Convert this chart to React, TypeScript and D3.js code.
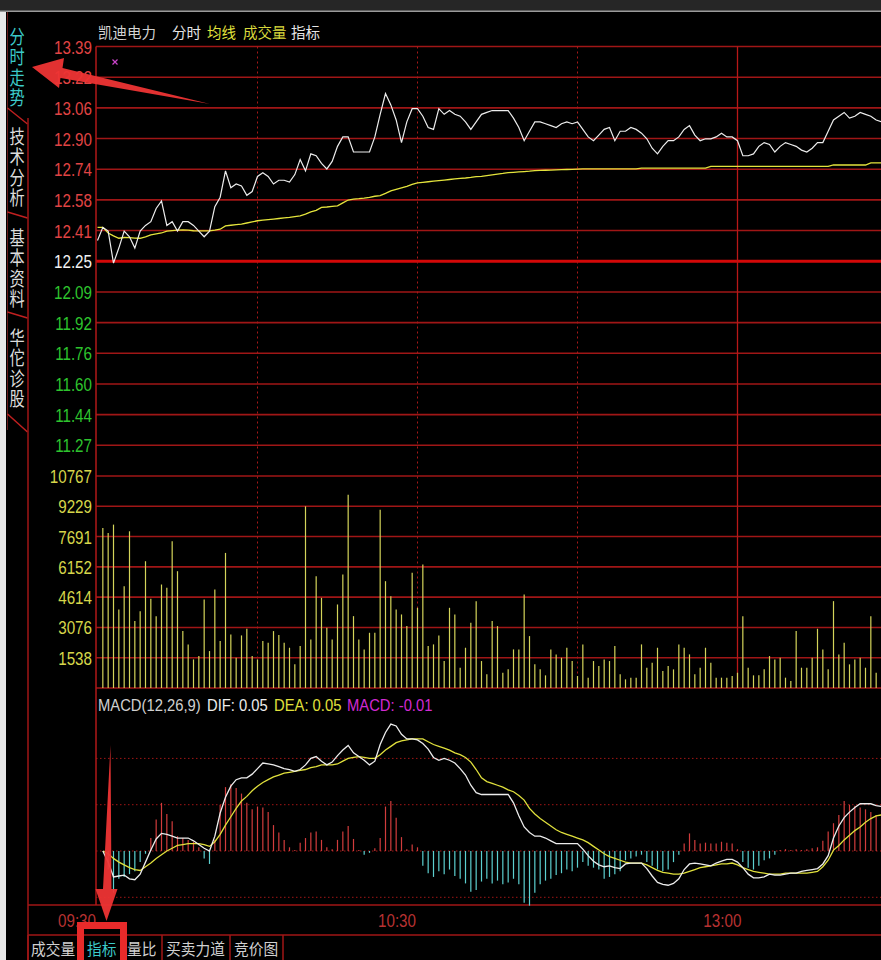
import React from "react";
import * as d3 from "d3";

const W = 881;
const H = 960;

// ---------- data ----------
const preClose = 12.25;
const priceStep = 0.162857;
const priceTickLabels = ["13.39", "13.22", "13.06", "12.90", "12.74", "12.58", "12.41", "12.25", "12.09", "11.92", "11.76", "11.60", "11.44", "11.27"];
const volumeTicks = [10767, 9229, 7691, 6152, 4614, 3076, 1538];
const timeLabels = ["09:30", "10:30", "13:00"];
const timeLabelMinutes = [0, 60, 121];
const dottedMinutes = [30, 60, 90];
const solidMinutes = [120];
const macdGrid = [0.1, 0.05, 0, -0.05];

const price = [
  12.36, 12.43, 12.41, 12.24, 12.32, 12.41, 12.38, 12.32, 12.41, 12.44,
  12.46, 12.53, 12.57, 12.44, 12.46, 12.41, 12.46, 12.46, 12.44, 12.41,
  12.38, 12.41, 12.54, 12.59, 12.73, 12.64, 12.66, 12.65, 12.60, 12.62,
  12.70, 12.72, 12.70, 12.66, 12.68, 12.68, 12.67, 12.71, 12.79, 12.73,
  12.82, 12.81, 12.77, 12.74, 12.78, 12.86, 12.91, 12.91, 12.83, 12.83,
  12.83, 12.83, 12.91, 13.03, 13.14, 13.08, 13.00, 12.88, 12.99, 13.06,
  13.06, 13.02, 12.96, 12.95, 13.06, 13.03, 13.05, 13.03, 13.02, 12.99,
  12.95, 12.99, 13.03, 13.04, 13.05, 13.05, 13.05, 13.05, 13.01, 12.96,
  12.89, 12.94, 12.99, 12.99, 12.98, 12.97, 12.96, 12.98, 12.99, 12.98,
  12.99, 12.95, 12.91, 12.89, 12.92, 12.95, 12.96, 12.89, 12.94, 12.94,
  12.96, 12.95, 12.93, 12.90, 12.85, 12.82, 12.86, 12.89, 12.89, 12.91,
  12.95, 12.97, 12.92, 12.89, 12.90, 12.90, 12.91, 12.93, 12.91, 12.91,
  12.89, 12.81, 12.81, 12.82, 12.86, 12.88, 12.87, 12.83, 12.86, 12.88,
  12.87, 12.86, 12.84, 12.83, 12.85, 12.88, 12.88, 12.94, 13.00, 13.02,
  13.04, 13.01, 13.02, 13.04, 13.03, 13.02, 13.00, 12.99,
];

const avgPrice = [
  12.430, 12.430, 12.400, 12.385, 12.372, 12.376, 12.375, 12.373, 12.372, 12.380,
  12.390, 12.395, 12.400, 12.410, 12.413, 12.415, 12.417, 12.415, 12.412, 12.411,
  12.411, 12.411, 12.415, 12.420, 12.438, 12.441, 12.444, 12.447, 12.453, 12.459,
  12.465, 12.468, 12.471, 12.474, 12.477, 12.480, 12.483, 12.487, 12.491, 12.500,
  12.512, 12.520, 12.536, 12.538, 12.541, 12.544, 12.560, 12.575, 12.580, 12.582,
  12.585, 12.589, 12.595, 12.598, 12.610, 12.624, 12.632, 12.640, 12.648, 12.658,
  12.666, 12.669, 12.672, 12.675, 12.678, 12.681, 12.684, 12.687, 12.690, 12.692,
  12.695, 12.699, 12.701, 12.705, 12.709, 12.713, 12.716, 12.720, 12.722, 12.724,
  12.726, 12.728, 12.731, 12.732, 12.733, 12.734, 12.735, 12.736, 12.737, 12.738,
  12.739, 12.740, 12.740, 12.740, 12.740, 12.740, 12.740, 12.740, 12.740, 12.740,
  12.740, 12.740, 12.744, 12.744, 12.744, 12.744, 12.744, 12.744, 12.744, 12.744,
  12.744, 12.744, 12.744, 12.744, 12.744, 12.754, 12.754, 12.754, 12.754, 12.754,
  12.754, 12.754, 12.754, 12.754, 12.754, 12.754, 12.754, 12.754, 12.754, 12.754,
  12.754, 12.754, 12.754, 12.754, 12.754, 12.754, 12.754, 12.754, 12.761, 12.761,
  12.761, 12.761, 12.761, 12.761, 12.761, 12.772, 12.772, 12.772,
];

const volume = [
  0, 8129, 7875, 8298, 3988, 5171, 7960, 3397, 3904, 6439,
  4529, 3650, 5256, 5087, 7453, 5932, 2890, 2214, 1453, 1622,
  4495, 1876, 5002, 2383, 6861, 2721, 1538, 2670, 3008, 1622,
  1453, 2383, 2298, 2890, 2687, 2298, 2045, 1200, 2129, 9227,
  2467, 5678, 4580, 3059, 2467, 4242, 5763, 9819, 3650, 2467,
  1960, 2805, 2805, 9058, 5425, 4664, 3988, 3735, 3143, 5847,
  4073, 6270, 2129, 2214, 2670, 1369, 4073, 3735, 1031, 2045,
  3312, 4411, 1369, 693, 3397, 3143, 777, 946, 1960, 1960,
  4749, 2636, 1200, 946, 642, 1960, 1707, 1538, 2045, 1369,
  608, 2214, 524, 1369, 1115, 1453, 1369, 2129, 693, 439,
  524, 524, 2214, 1031, 1284, 2045, 862, 1115, 946, 2214,
  2045, 1707, 693, 1031, 2045, 1284, 524, 524, 524, 608,
  777, 3650, 1031, 642, 642, 946, 1622, 1453, 1538, 524,
  355, 2890, 1031, 1031, 1538, 3008, 1960, 946, 4411, 1707,
  2298, 1200, 1453, 1538, 1031, 3650, 777,
];

// MACD series start at minute 1
const macdStart = 1;
const dif = [
  0.000, -0.012, -0.028, -0.027, -0.026, -0.030, -0.031, -0.025, -0.012, 0.001,
  0.013, 0.019, 0.018, 0.016, 0.014, 0.014, 0.014, 0.011, 0.007, 0.003,
  0.000, 0.016, 0.041, 0.058, 0.070, 0.077, 0.079, 0.079, 0.083, 0.089,
  0.095, 0.094, 0.093, 0.091, 0.089, 0.088, 0.086, 0.088, 0.093, 0.100,
  0.102, 0.097, 0.093, 0.096, 0.103, 0.109, 0.114, 0.106, 0.102, 0.098,
  0.093, 0.097, 0.115, 0.128, 0.137, 0.135, 0.126, 0.121, 0.121, 0.120,
  0.116, 0.110, 0.101, 0.098, 0.100, 0.098, 0.095, 0.089, 0.082, 0.071,
  0.063, 0.061, 0.061, 0.061, 0.061, 0.061, 0.061, 0.052, 0.038, 0.026,
  0.020, 0.016, 0.016, 0.014, 0.011, 0.008, 0.008, 0.008, 0.008, 0.008,
  0.002, -0.005, -0.011, -0.015, -0.017, -0.016, -0.018, -0.019, -0.014, -0.013,
  -0.013, -0.013, -0.019, -0.027, -0.034, -0.036, -0.037, -0.035, -0.030, -0.020,
  -0.014, -0.013, -0.014, -0.015, -0.016, -0.013, -0.011, -0.009, -0.009, -0.012,
  -0.018, -0.025, -0.029, -0.029, -0.028, -0.025, -0.026, -0.026, -0.025, -0.024,
  -0.024, -0.022, -0.021, -0.020, -0.019, -0.014, -0.005, 0.014, 0.027, 0.036,
  0.042, 0.047, 0.051, 0.051, 0.051, 0.049, 0.048,
];
const dea = [
  0.000, -0.003, -0.008, -0.012, -0.015, -0.018, -0.020, -0.021, -0.017, -0.013,
  -0.008, -0.004, 0.000, 0.003, 0.006, 0.007, 0.008, 0.008, 0.008, 0.007,
  0.005, 0.010, 0.018, 0.028, 0.037, 0.046, 0.054, 0.059, 0.065, 0.070,
  0.074, 0.077, 0.080, 0.082, 0.084, 0.085, 0.086, 0.087, 0.088, 0.090,
  0.091, 0.093, 0.093, 0.093, 0.094, 0.097, 0.100, 0.101, 0.102, 0.101,
  0.100, 0.100, 0.104, 0.109, 0.113, 0.117, 0.119, 0.120, 0.121, 0.121,
  0.121, 0.118, 0.115, 0.113, 0.111, 0.109, 0.106, 0.104, 0.101, 0.096,
  0.088, 0.079, 0.075, 0.073, 0.071, 0.069, 0.066, 0.064, 0.060, 0.055,
  0.046, 0.040, 0.035, 0.031, 0.027, 0.023, 0.020, 0.018, 0.016, 0.014,
  0.012, 0.009, 0.005, 0.001, -0.003, -0.006, -0.008, -0.010, -0.012, -0.013,
  -0.013, -0.013, -0.015, -0.018, -0.021, -0.023, -0.024, -0.025, -0.025, -0.024,
  -0.022, -0.020, -0.018, -0.017, -0.016, -0.015, -0.014, -0.014, -0.013, -0.015,
  -0.018, -0.020, -0.022, -0.023, -0.024, -0.025, -0.025, -0.025, -0.024, -0.024,
  -0.024, -0.024, -0.024, -0.023, -0.022, -0.017, -0.010, 0.001, 0.006, 0.012,
  0.017, 0.022, 0.026, 0.031, 0.035, 0.038, 0.039,
];
const macdHist = [
  0, 0, -0.020, -0.045, -0.030, -0.028, -0.025, -0.022, -0.012, -0.003,
  0.014, 0.034, 0.052, 0.040, 0.032, 0.016, 0.014, 0.012, 0.010, 0.004,
  -0.008, -0.014, 0.012, 0.050, 0.069, 0.072, 0.068, 0.062, 0.052, 0.045,
  0.048, 0.047, 0.042, 0.028, 0.020, 0.012, 0.004, 0.001, 0.009, 0.014,
  0.020, 0.021, 0.012, 0.004, 0.002, 0.012, 0.021, 0.027, 0.013, 0.001,
  -0.004, -0.002, 0.003, 0.014, 0.048, 0.054, 0.036, 0.015, 0.002, 0.007,
  0.004, -0.016, -0.024, -0.028, -0.022, -0.025, -0.020, -0.027, -0.030, -0.035,
  -0.044, -0.042, -0.033, -0.030, -0.035, -0.032, -0.036, -0.034, -0.030, -0.036,
  -0.056, -0.059, -0.045, -0.036, -0.032, -0.030, -0.026, -0.024, -0.020, -0.022,
  -0.018, -0.012, -0.016, -0.018, -0.020, -0.030, -0.028, -0.025, -0.022, -0.010,
  -0.008, -0.006, -0.004, -0.012, -0.016, -0.020, -0.022, -0.020, -0.012, -0.004,
  0.008, 0.019, 0.012, 0.008, 0.009, 0.008, 0.008, 0.010, 0.009, 0.008,
  0.002, -0.012, -0.018, -0.020, -0.016, -0.010, -0.008, -0.004, 0.001, 0.002,
  0.001, 0.002, 0.001, 0.002, 0.003, 0.004, 0.011, 0.021, 0.030, 0.039,
  0.054, 0.050, 0.049, 0.047, 0.045, 0.042, 0.039, 0.034,
];

const titleParts = [
  { t: "凯迪电力", c: "#d4d4d4", x: 98 },
  { t: "分时", c: "#e6e6e6", x: 172 },
  { t: "均线", c: "#e2e23c", x: 207 },
  { t: "成交量", c: "#d8d83c", x: 243 },
  { t: "指标", c: "#e6e6e6", x: 291 },
];
const macdLabelParts = [
  { t: "MACD(12,26,9)", c: "#d0d0d0", x: 98 },
  { t: "DIF: 0.05", c: "#ececec", x: 207 },
  { t: "DEA: 0.05", c: "#e0e03c", x: 274 },
  { t: "MACD: -0.01", c: "#d22ad2", x: 347 },
];
const sideTabs = [
  { t: "分时走势", c: "#3ccaca", y0: 27 },
  { t: "技术分析", c: "#dcdcdc", y0: 127 },
  { t: "基本资料", c: "#dcdcdc", y0: 228 },
  { t: "华佗诊股", c: "#dcdcdc", y0: 328 },
];
const bottomTabs = [
  { t: "成交量", c: "#d0d0d0", x: 31 },
  { t: "指标", c: "#3ccaca", x: 87 },
  { t: "量比", c: "#d0d0d0", x: 127 },
  { t: "买卖力道", c: "#d0d0d0", x: 166 },
  { t: "竞价图", c: "#d0d0d0", x: 234 },
];
const bottomSeparators = [28, 162, 230, 283];

// ---------- layout ----------
const x0 = 97.5;
const pxPerMin = 16 / 3;
const priceTop = 46.5;
const priceBottom = 476;
const volBottom = 688;
const macdBottom = 905;
const timeBottom = 935;

const GRID = "#a01616";
const NUM_FONT = "'Liberation Sans', Arial, sans-serif";
const CJK_FONT = "'Noto Sans CJK SC', sans-serif";

export default function App() {
  const x = d3.scaleLinear().domain([0, 240]).range([x0, x0 + 240 * pxPerMin]);
  const yP = d3
    .scaleLinear()
    .domain([preClose - 7 * priceStep, preClose + 7 * priceStep])
    .range([priceBottom, priceTop]);
  const yV = d3.scaleLinear().domain([0, volumeTicks[0]]).range([volBottom, priceBottom]);
  const yM = d3.scaleLinear().domain([-0.05, 0.1]).range([897.3, 758.4]);

  const priceLine = d3
    .line<number>()
    .x((_, i) => x(i))
    .y((d) => yP(d));
  const macdLine = d3
    .line<number>()
    .x((_, i) => x(i + macdStart))
    .y((d) => yM(d));

  const priceGridY = priceTickLabels.map((_, k) => yP(preClose + (7 - k) * priceStep));
  priceGridY.push(yP(preClose - 7 * priceStep));

  const numLabel = (
    txt: string,
    px: number,
    py: number,
    color: string,
    size = 19,
    sx = 0.8,
    anchor: "end" | "start" = "end",
    key?: string
  ) => (
    <text
      key={key}
      transform={`translate(${px},${py}) scale(${sx},1)`}
      textAnchor={anchor}
      fill={color}
      fontFamily={NUM_FONT}
      fontSize={size}
    >
      {txt}
    </text>
  );

  // arrow geometry (annotation)
  const arrow1 = "M32,67 L64,58 L62.5,68 L210,104 L60.5,78 L59,88 Z";
  const arrow2 = "M110.5,745 L111.5,889 L117.5,889 L106.5,921 L95.5,889 L103,889 Z";

  return (
    <svg
      width={W}
      height={H}
      viewBox={`0 0 ${W} ${H}`}
      style={{ position: "absolute", left: 0, top: 0, background: "#000" }}
    >
      <rect x={0} y={0} width={W} height={H} fill="#000" />
      {/* header strip */}
      <rect x={0} y={0} width={W} height={11} fill="#262626" />
      <rect x={0} y={10.5} width={W} height={1.5} fill="#9a9a9a" />
      {/* left white border */}
      <rect x={0} y={12} width={6} height={H - 12} fill="#e8e8e8" />

      {/* side tabs */}
      <line x1={7.5} y1={12} x2={7.5} y2={430} stroke="#6a1a1a" strokeWidth={1} />
      <path d="M7.5,108 L27.5,124" stroke="#c02020" strokeWidth={1.5} fill="none" />
      <path d="M7.5,212 L27.5,218" stroke="#c02020" strokeWidth={1.5} fill="none" />
      <path d="M7.5,312 L27.5,318" stroke="#c02020" strokeWidth={1.5} fill="none" />
      <path d="M7.5,414 L27.5,432" stroke="#c02020" strokeWidth={1.5} fill="none" />
      <line x1={28} y1={118} x2={28} y2={H} stroke={GRID} strokeWidth={1.5} />
      {sideTabs.map((tab) => (
        <text
          key={tab.t}
          transform={`translate(17,${tab.y0}) scale(0.8,1)`}
          fill={tab.c}
          fontFamily={CJK_FONT}
          fontSize={19}
          letterSpacing={1.5}
          style={{ writingMode: "vertical-rl" as any }}
        >
          {tab.t}
        </text>
      ))}

      {/* title */}
      {titleParts.map((p) => (
        <text key={p.t} x={p.x} y={38} fill={p.c} fontFamily={CJK_FONT} fontSize={14.5}>
          {p.t}
        </text>
      ))}

      {/* price grid */}
      {priceGridY.map((gy, k) => (
        <line
          key={"pg" + k}
          x1={96}
          x2={W}
          y1={gy}
          y2={gy}
          stroke={k === 7 ? "#d40808" : GRID}
          strokeWidth={k === 7 ? 3 : 1.6}
        />
      ))}
      {/* volume grid */}
      {volumeTicks.slice(1).map((v) => (
        <line key={"vg" + v} x1={96} x2={W} y1={yV(v)} y2={yV(v)} stroke={GRID} strokeWidth={1.6} />
      ))}
      <line x1={96} x2={W} y1={volBottom} y2={volBottom} stroke={GRID} strokeWidth={1.6} />

      {/* vertical time grid */}
      {dottedMinutes.map((m) => (
        <line
          key={"vd" + m}
          x1={x(m)}
          x2={x(m)}
          y1={priceTop}
          y2={volBottom}
          stroke="#a81818"
          strokeWidth={1}
          strokeDasharray="2,3"
        />
      ))}
      {solidMinutes.map((m) => (
        <line key={"vs" + m} x1={x(m)} x2={x(m)} y1={priceTop} y2={volBottom} stroke="#b81818" strokeWidth={1.3} />
      ))}

      {/* MACD grid */}
      {macdGrid.map((v) => (
        <line
          key={"mg" + v}
          x1={96}
          x2={W}
          y1={yM(v)}
          y2={yM(v)}
          stroke="#a01616"
          strokeWidth={1}
          strokeDasharray="1.5,2.5"
        />
      ))}
      <line x1={28} x2={W} y1={macdBottom} y2={macdBottom} stroke={GRID} strokeWidth={1.6} />
      <line x1={28} x2={W} y1={timeBottom} y2={timeBottom} stroke={GRID} strokeWidth={1.6} />

      {/* left axis line */}
      <line x1={96} x2={96} y1={priceTop} y2={macdBottom} stroke="#b01818" strokeWidth={1.5} />

      {/* price labels */}
      {priceTickLabels.map((lab, k) =>
        numLabel(
          lab,
          92,
          priceGridY[k] + 7,
          k < 7 ? "#e04444" : k === 7 ? "#f2f2f2" : "#2ec42e",
          19,
          0.8,
          "end",
          "pl" + k
        )
      )}
      {/* volume labels */}
      {volumeTicks.map((v) => numLabel(String(v), 92, yV(v) + 7, "#d6d64a", 19, 0.8, "end", "vl" + v))}

      {/* volume bars */}
      {volume.map((v, i) =>
        v > 0 ? (
          <line key={"vb" + i} x1={x(i)} x2={x(i)} y1={yV(0)} y2={yV(v)} stroke="#d4d45a" strokeWidth={1.2} />
        ) : null
      )}

      {/* price lines */}
      <path d={priceLine(avgPrice) || ""} fill="none" stroke="#e4e43c" strokeWidth={1.3} />
      <path d={priceLine(price) || ""} fill="none" stroke="#ececec" strokeWidth={1.2} />

      {/* magenta marker */}
      <path d="M112.5,59.5 L117.5,64.5 M117.5,59.5 L112.5,64.5" stroke="#cc44cc" strokeWidth={1.2} />

      {/* MACD histogram */}
      {macdHist.map((v, i) =>
        v !== 0 ? (
          <line
            key={"mh" + i}
            x1={x(i)}
            x2={x(i)}
            y1={yM(0)}
            y2={yM(v)}
            stroke={v > 0 ? "#d23c3c" : "#5ccfcf"}
            strokeWidth={1.2}
          />
        ) : null
      )}
      <path d={macdLine(dea) || ""} fill="none" stroke="#e0e03c" strokeWidth={1.3} />
      <path d={macdLine(dif) || ""} fill="none" stroke="#ececec" strokeWidth={1.3} />

      {/* MACD label */}
      {macdLabelParts.map((p) => (
        <text
          key={p.t}
          transform={`translate(${p.x},711) scale(0.87,1)`}
          fill={p.c}
          fontFamily={NUM_FONT}
          fontSize={17}
        >
          {p.t}
        </text>
      ))}

      {/* time labels */}
      {timeLabels.map((t, k) => numLabel(t, x(timeLabelMinutes[k]) - 1.5, 927, "#b83232", 19, 0.8, "end", "tl" + t))}

      {/* bottom tabs */}
      {bottomSeparators.map((sx) => (
        <line key={"bs" + sx} x1={sx} x2={sx} y1={timeBottom} y2={H} stroke={GRID} strokeWidth={1.5} />
      ))}
      {bottomTabs.map((b) => (
        <text
          key={b.t}
          transform={`translate(${b.x},955) scale(0.95,1)`}
          fill={b.c}
          fontFamily={CJK_FONT}
          fontSize={15.5}
        >
          {b.t}
        </text>
      ))}

      {/* annotations */}
      <path d={arrow1} fill="#ee3434" opacity={0.95} />
      <path d={arrow2} fill="#ee3434" opacity={0.95} />
      <rect x={80.5} y={925.5} width={43} height={45} fill="none" stroke="#e82a2a" strokeWidth={7} />
    </svg>
  );
}
